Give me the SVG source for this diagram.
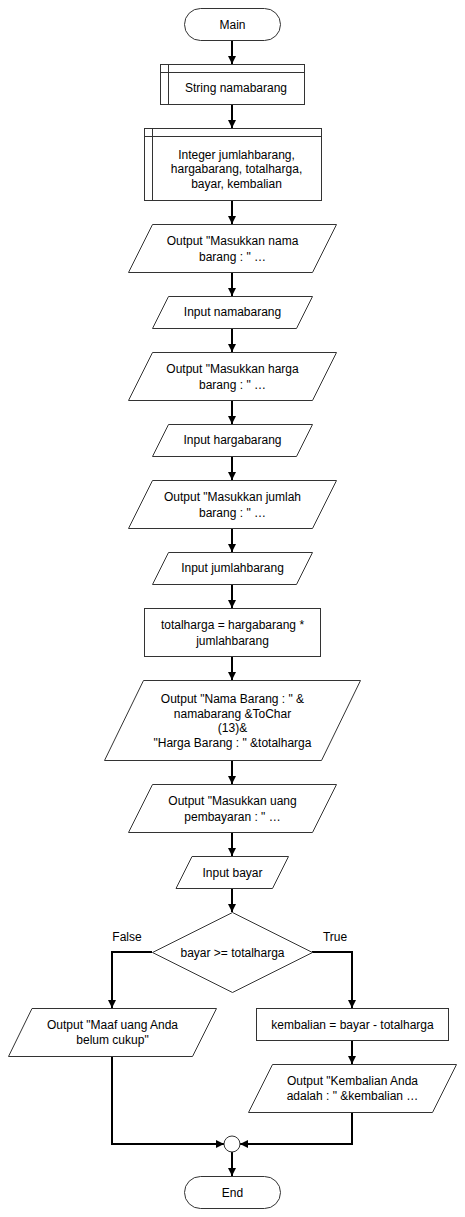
<svg xmlns="http://www.w3.org/2000/svg" width="465" height="1217" viewBox="0 0 465 1217">
<style>
.s{fill:#fff;stroke:#333;stroke-width:1}
.l{fill:none;stroke:#000;stroke-width:2}
.c{fill:none;stroke:#000;stroke-width:2;marker-end:url(#ah)}
text{font-family:"Liberation Sans",Arial,sans-serif;font-size:12px;fill:#000;text-anchor:middle}
</style>
<defs>
<marker id="ah" markerUnits="userSpaceOnUse" markerWidth="9" markerHeight="9" refX="8" refY="4" orient="auto">
<path d="M0,0 L8,4 L0,8 z" fill="#000"/>
</marker>
</defs>
<rect width="465" height="1217" fill="#fff"/>
<g id="connectors">
<line class="c" x1="232" y1="40" x2="232" y2="64"/>
<line class="c" x1="232" y1="104" x2="232" y2="128"/>
<line class="c" x1="232" y1="200" x2="232" y2="224"/>
<line class="c" x1="232" y1="272" x2="232" y2="296"/>
<line class="c" x1="232" y1="328" x2="232" y2="352"/>
<line class="c" x1="232" y1="400" x2="232" y2="424"/>
<line class="c" x1="232" y1="456" x2="232" y2="480"/>
<line class="c" x1="232" y1="528" x2="232" y2="552"/>
<line class="c" x1="232" y1="584" x2="232" y2="608"/>
<line class="c" x1="232" y1="656" x2="232" y2="680"/>
<line class="c" x1="232" y1="760" x2="232" y2="784"/>
<line class="c" x1="232" y1="832" x2="232" y2="856"/>
<line class="c" x1="232" y1="888" x2="232" y2="912"/>
<polyline class="c" points="152,952 112,952 112,1008"/>
<polyline class="c" points="312,952 352,952 352,1008"/>
<line class="c" x1="352" y1="1040" x2="352" y2="1064"/>
<polyline class="c" points="112,1056 112,1144 224,1144"/>
<polyline class="c" points="352,1112 352,1144 240,1144"/>
<line class="c" x1="232" y1="1152" x2="232" y2="1176"/>
<text x="127" y="941">False</text>
<text x="335" y="941">True</text>
</g>
<g id="main">
<rect class="s" x="184.5" y="8.5" width="96" height="32" rx="16"/>
<text x="232.5" y="28.5">Main</text>
</g>
<g id="decl-string">
<rect class="s" x="160.5" y="64.5" width="144" height="40"/>
<line class="s" x1="160.5" y1="72.5" x2="304.5" y2="72.5"/>
<line class="s" x1="168.5" y1="64.5" x2="168.5" y2="104.5"/>
<text x="236" y="92">String namabarang</text>
</g>
<g id="decl-integer">
<rect class="s" x="144.5" y="128.5" width="177" height="72"/>
<line class="s" x1="144.5" y1="136.5" x2="321.5" y2="136.5"/>
<line class="s" x1="152.5" y1="128.5" x2="152.5" y2="200.5"/>
<text x="236.5" y="158.5">Integer jumlahbarang,</text>
<text x="236.5" y="173">hargabarang, totalharga,</text>
<text x="236.5" y="187.5">bayar, kembalian</text>
</g>
<g id="out-nama">
<polygon class="s" points="152.5,224.5 336.5,224.5 312.5,272.5 128.5,272.5"/>
<text x="232.5" y="245">Output "Masukkan nama</text>
<text x="232.5" y="260.5">barang : " …</text>
</g>
<g id="in-nama">
<polygon class="s" points="168.5,296.5 312.5,296.5 296.5,328.5 152.5,328.5"/>
<text x="232.5" y="316">Input namabarang</text>
</g>
<g id="out-harga">
<polygon class="s" points="152.5,352.5 336.5,352.5 312.5,400.5 128.5,400.5"/>
<text x="232.5" y="373">Output "Masukkan harga</text>
<text x="232.5" y="388.5">barang : " …</text>
</g>
<g id="in-harga">
<polygon class="s" points="168.5,424.5 312.5,424.5 296.5,456.5 152.5,456.5"/>
<text x="232.5" y="444">Input hargabarang</text>
</g>
<g id="out-jumlah">
<polygon class="s" points="152.5,480.5 336.5,480.5 312.5,528.5 128.5,528.5"/>
<text x="232.5" y="501">Output "Masukkan jumlah</text>
<text x="232.5" y="516.5">barang : " …</text>
</g>
<g id="in-jumlah">
<polygon class="s" points="168.5,552.5 312.5,552.5 296.5,584.5 152.5,584.5"/>
<text x="232.5" y="572">Input jumlahbarang</text>
</g>
<g id="assign-total">
<rect class="s" x="144.5" y="608.5" width="176" height="48"/>
<text x="232.5" y="629">totalharga = hargabarang *</text>
<text x="232.5" y="644.5">jumlahbarang</text>
</g>
<g id="out-summary">
<polygon class="s" points="143.5,680.5 360.5,680.5 321.5,760.5 104.5,760.5"/>
<text x="232.5" y="702.5">Output "Nama Barang : " &amp;</text>
<text x="232.5" y="717.5">namabarang &amp;ToChar</text>
<text x="232.5" y="732">(13)&amp;</text>
<text x="232.5" y="746.5">"Harga Barang : " &amp;totalharga</text>
</g>
<g id="out-uang">
<polygon class="s" points="152.5,784.5 336.5,784.5 312.5,832.5 128.5,832.5"/>
<text x="232.5" y="805">Output "Masukkan uang</text>
<text x="232.5" y="820.5">pembayaran : " …</text>
</g>
<g id="in-bayar">
<polygon class="s" points="192,856.5 288.5,856.5 272.5,888.5 176,888.5"/>
<text x="232.5" y="876.5">Input bayar</text>
</g>
<g id="decision">
<polygon class="s" points="232.5,912.5 312.5,952.5 232.5,992.5 152.5,952.5"/>
<text x="232.5" y="956.5">bayar &gt;= totalharga</text>
</g>
<g id="out-maaf">
<polygon class="s" points="32,1008.5 216.5,1008.5 192.5,1056.5 8.5,1056.5"/>
<text x="112.5" y="1029">Output "Maaf uang Anda</text>
<text x="112.5" y="1043.5">belum cukup"</text>
</g>
<g id="assign-kembalian">
<rect class="s" x="256.5" y="1008.5" width="192" height="32"/>
<text x="352.5" y="1028.5">kembalian = bayar - totalharga</text>
</g>
<g id="out-kembalian">
<polygon class="s" points="272.5,1064.5 456.5,1064.5 432.5,1112.5 248.5,1112.5"/>
<text x="352.5" y="1085">Output "Kembalian Anda</text>
<text x="352.5" y="1100">adalah : " &amp;kembalian …</text>
</g>
<g id="join">
<circle class="s" cx="232" cy="1144" r="8"/>
</g>
<g id="end">
<rect class="s" x="184.5" y="1176.5" width="96" height="32" rx="16"/>
<text x="232.5" y="1196.5">End</text>
</g>
</svg>
